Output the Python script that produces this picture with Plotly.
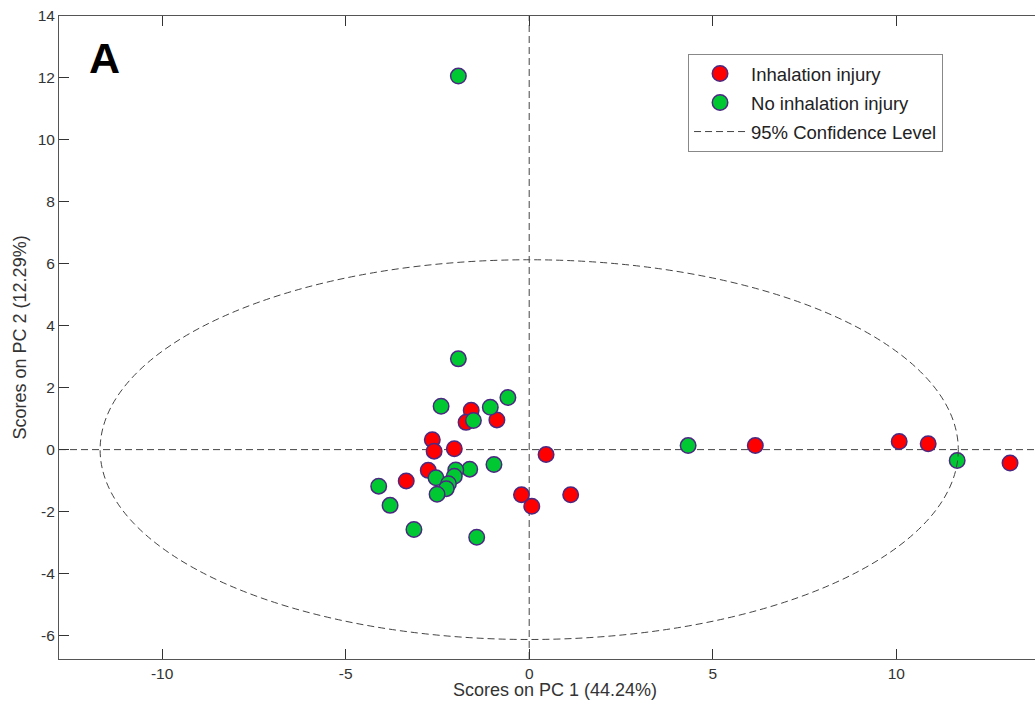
import plotly.graph_objects as go

# ---- data ----
inhal_pc1 = [-2.64, -2.59, -2.04, -2.75, -3.35, -1.58, -1.72, -0.88, 0.46, -0.21, 0.07, 1.13, 6.16, 10.08, 10.87, 13.10]
inhal_pc2 = [0.32, -0.05, 0.03, -0.67, -1.01, 1.27, 0.88, 0.96, -0.16, -1.46, -1.83, -1.46, 0.13, 0.26, 0.19, -0.43]

noinh_pc1 = [-1.93, -1.93, -2.40, -1.06, -0.58, -1.52, -4.10, -3.79, -3.14, -1.43, -0.96, -1.62, -2.00, -2.04, -2.54, -2.20, -2.26, -2.51, 4.33, 11.66]
noinh_pc2 = [12.06, 2.93, 1.40, 1.37, 1.68, 0.94, -1.18, -1.80, -2.58, -2.83, -0.48, -0.63, -0.66, -0.86, -0.91, -1.10, -1.26, -1.44, 0.13, -0.35]

ellipse_a = 11.69   # semi-axis along PC 1
ellipse_b = 6.13    # semi-axis along PC 2

x_range = [-12.81, 13.78]
y_range = [-6.76, 14]
x_ticks = [-10, -5, 0, 5, 10]
x_tick_labels = ["-10", "-5", "0", "5", "10"]
y_ticks = [-6, -4, -2, 0, 2, 4, 6, 8, 10, 12, 14]
y_tick_labels = ["-6", "-4", "-2", "0", "2", "4", "6", "8", "10", "12", "14"]

# ---- style ----
FONT = "Liberation Sans, Arial, Helvetica, sans-serif"
EDGE = "rgb(75,40,130)"
DASH = "7px,4px"
LINEC = "#444444"

fig = go.Figure()
fig.add_trace(go.Scatter(
    x=inhal_pc1, y=inhal_pc2, mode="markers", name="Inhalation injury", legendgroup="g1",
    marker=dict(symbol="circle", size=15.5, color="#FF0000", line=dict(color=EDGE, width=1.5))))
fig.add_trace(go.Scatter(
    x=noinh_pc1, y=noinh_pc2, mode="markers", name="No inhalation injury", legendgroup="g2",
    marker=dict(symbol="circle", size=15.5, color="rgb(0,200,50)", line=dict(color=EDGE, width=1.5))))
# legend entry for the confidence ellipse (drawn as a shape below)
fig.add_trace(go.Scatter(
    x=[None], y=[None], mode="lines", name="95% Confidence Level", legendgroup="g3",
    line=dict(color=LINEC, width=1, dash=DASH)))

# crosshair lines
fig.add_shape(type="line", xref="paper", yref="y", x0=0, x1=1, y0=0, y1=0,
              line=dict(color=LINEC, width=1, dash=DASH), layer="below")
fig.add_shape(type="line", xref="x", yref="paper", x0=0, x1=0, y0=0, y1=1,
              line=dict(color=LINEC, width=1, dash=DASH), layer="below")
# 95% confidence ellipse
fig.add_shape(type="circle", xref="x", yref="y",
              x0=-ellipse_a, x1=ellipse_a, y0=-ellipse_b, y1=ellipse_b,
              line=dict(color=LINEC, width=1, dash=DASH), layer="above")

axis_common = dict(
    showgrid=False, zeroline=False, showline=True, linecolor="#555555", linewidth=1,
    ticks="inside", ticklen=10, tickwidth=1, tickcolor="#333333",
    tickfont=dict(family=FONT, size=15.5, color="#333333"),
)
fig.update_xaxes(range=x_range, tickvals=x_ticks, ticktext=x_tick_labels, mirror="ticks", **axis_common)
fig.update_yaxes(range=y_range, tickvals=y_ticks, ticktext=y_tick_labels, mirror=False, **axis_common)

fig.update_layout(
    width=1035, height=705,
    margin=dict(l=59, r=0, t=16, b=46),
    paper_bgcolor="white", plot_bgcolor="white",
    font=dict(family=FONT, color="#222222"),
    showlegend=True,
    legend=dict(
        x=0.6445, y=0.941, xanchor="left", yanchor="top",
        bgcolor="white", bordercolor="#888888", borderwidth=1,
        font=dict(family=FONT, size=18.5, color="#222222"),
        itemwidth=52, traceorder="grouped", tracegroupgap=2,
    ),
    annotations=[
        dict(text="Scores on PC 1 (44.24%)", xref="paper", yref="paper",
             x=0.508, y=-0.048, xanchor="center", yanchor="middle", showarrow=False,
             font=dict(family=FONT, size=18, color="#333333")),
        dict(text="Scores on PC 2 (12.29%)", xref="paper", yref="paper",
             x=-0.040, y=0.5, xanchor="center", yanchor="middle", textangle=-90, showarrow=False,
             font=dict(family=FONT, size=18, color="#333333")),
        dict(text="<b>A</b>", xref="paper", yref="paper",
             x=0.0471, y=0.935, xanchor="center", yanchor="middle", showarrow=False,
             font=dict(family=FONT, size=43, color="black")),
    ],
)

fig.write_html("out.html")
